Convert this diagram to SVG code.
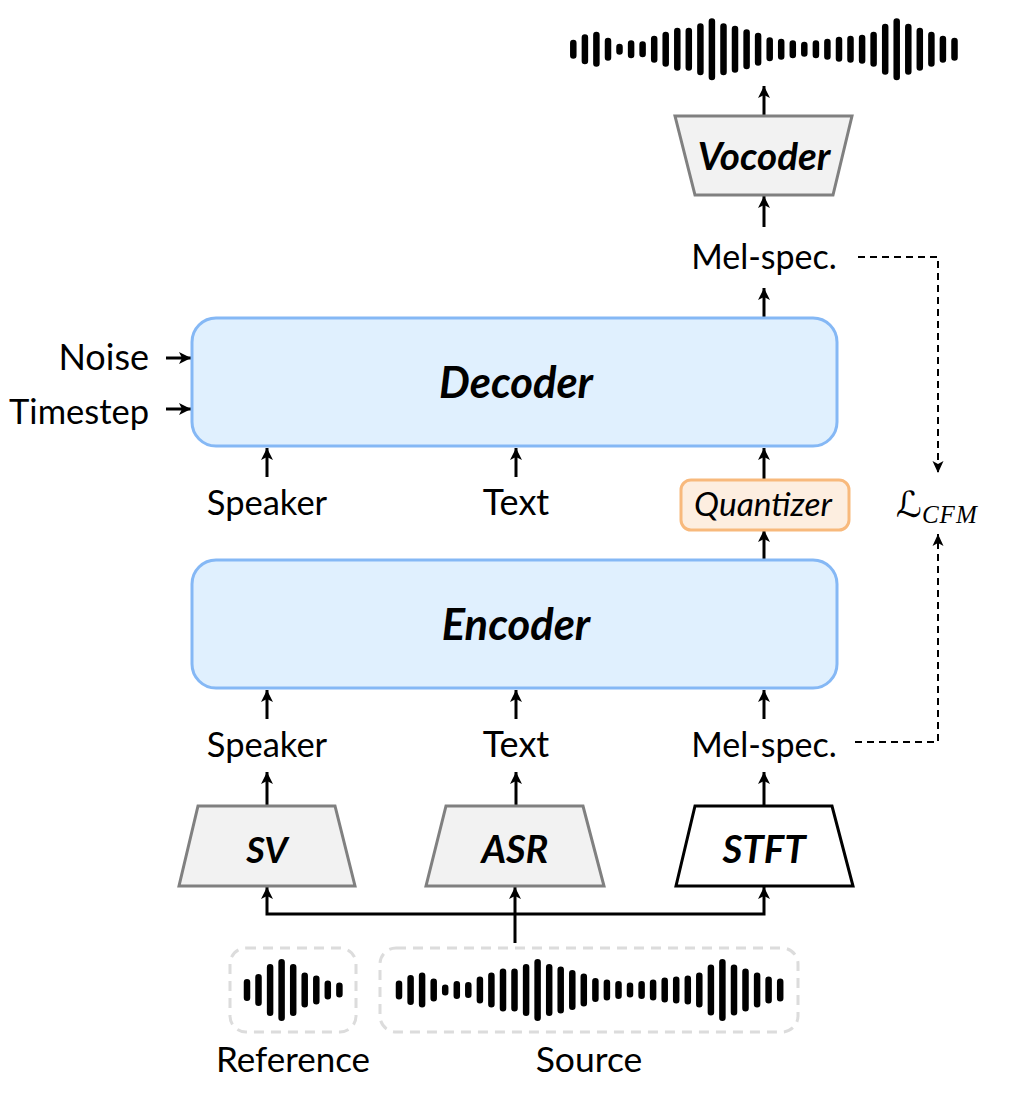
<svg xmlns="http://www.w3.org/2000/svg" width="1028" height="1100" viewBox="0 0 1028 1100">
<style>
text{font-family:"Lato","Liberation Sans",sans-serif;fill:#000}
.l{font-size:34.5px;text-anchor:middle}
.m{font-size:34px;text-anchor:middle}
.b{font-weight:700;font-style:italic;text-anchor:middle}
.block{fill:#e0f0fe;stroke:#85b8f5;stroke-width:3}
.gt{fill:#f2f2f2;stroke:#808080;stroke-width:3}
.wt{fill:#fff;stroke:#000;stroke-width:3}
.c{fill:none;stroke:#000;stroke-width:3}
.d{fill:none;stroke:#000;stroke-width:2;stroke-dasharray:7 5}
.w{fill:none;stroke:#000;stroke-width:6.5;stroke-linecap:round}
.box{fill:none;stroke:#dcdcdc;stroke-width:3;stroke-dasharray:10 7}
</style>
<defs>
<marker id="a" markerUnits="userSpaceOnUse" markerWidth="16" markerHeight="16" refX="13" refY="7" orient="auto"><path d="M1 1L13 7L1 13L4 7Z" fill="#000"/></marker>
<marker id="s" markerUnits="userSpaceOnUse" markerWidth="16" markerHeight="16" refX="13" refY="7" orient="auto"><path d="M1 1.5L13 7L1 12.5L4 7Z" fill="#000"/></marker>
<path id="wave" class="w" d="M573.3 43v12.5M584.9 37.5v23.5M596.4 35v28.5M608 41v16.5M619.5 47v4.5M631.1 43.5v11.5M642.6 44.5v9.5M654.2 39v20.5M665.7 35v28.5M677.3 31v36.5M688.8 31v36.5M700.4 26.5v45.5M711.9 21.5v55.5M723.5 26.5v45.5M735 29v40.5M746.6 32.5v33.5M758.1 36v26.5M769.7 40.5v17.5M781.2 42v14.5M792.8 43.5v11.5M804.3 45v8.5M815.9 43.5v11.5M827.4 42v14.5M839 40v18.5M850.5 39v20.5M862.1 38v22.5M873.6 35v28.5M885.2 27v44.5M896.7 21.5v55.5M908.3 27v44.5M919.8 31v36.5M931.4 35v28.5M942.9 39v20.5M954.5 41v16.5"/>
</defs>
<g id="connectors">
<path class="c" marker-end="url(#a)" d="M764 116V86"/>
<path class="c" marker-end="url(#a)" d="M764 227V196"/>
<path class="c" marker-end="url(#a)" d="M764 318V288"/>
<path class="c" marker-end="url(#a)" d="M764 480V448"/>
<path class="c" marker-end="url(#a)" d="M764 560V530"/>
<path class="c" marker-end="url(#a)" d="M267 477V448"/>
<path class="c" marker-end="url(#a)" d="M516 477V448"/>
<path class="c" marker-end="url(#a)" d="M267 719V690"/>
<path class="c" marker-end="url(#a)" d="M516 719V690"/>
<path class="c" marker-end="url(#a)" d="M764 719V690"/>
<path class="c" marker-end="url(#a)" d="M267 806V772"/>
<path class="c" marker-end="url(#a)" d="M516 806V772"/>
<path class="c" marker-end="url(#a)" d="M764 806V772"/>
<path class="c" marker-end="url(#a)" d="M166 358H191"/>
<path class="c" marker-end="url(#a)" d="M166 409H191"/>
<path class="c" marker-end="url(#a)" d="M515 943V887"/>
<path class="c" marker-end="url(#a)" d="M515 914H267V887"/>
<path class="c" marker-end="url(#a)" d="M515 914H764V887"/>
<path class="d" marker-end="url(#s)" d="M858 257H938V473"/>
<path class="d" marker-end="url(#s)" d="M855 742H938V534"/>
</g>
<g id="output-wave"><use href="#wave"/></g>
<g id="vocoder"><path class="gt" d="M675 116H852L833 195H695Z"/><text class="b" x="764" y="170" font-size="38.5">Vocoder</text></g>
<g id="mel-top"><text class="m" x="764" y="269">Mel-spec.</text></g>
<g id="decoder"><rect class="block" x="192" y="318" width="645" height="128" rx="24"/><text class="b" x="516" y="398" font-size="43.5">Decoder</text></g>
<g id="noise"><text x="149" y="370" font-size="36" text-anchor="end">Noise</text></g>
<g id="timestep"><text x="149" y="424" font-size="34.5" text-anchor="end">Timestep</text></g>
<g id="speaker-top"><text class="l" x="267" y="515">Speaker</text></g>
<g id="text-top"><text class="l" x="516" y="515" style="font-size:36px">Text</text></g>
<g id="quantizer"><rect x="681" y="480" width="168" height="50" rx="10" fill="#fdeee0" stroke="#f8b97c" stroke-width="3"/><text x="763" y="516" font-size="33.5" font-style="italic" text-anchor="middle">Quantizer</text></g>
<g id="loss"><text x="896" y="517" font-size="36" style="font-family:'DejaVu Serif','DejaVu Sans',serif">ℒ<tspan font-size="25" font-style="italic" dy="6" letter-spacing="1" style="font-family:'Liberation Serif',serif">CFM</tspan></text></g>
<g id="encoder"><rect class="block" x="192" y="560" width="645" height="128" rx="24"/><text class="b" x="516" y="640" font-size="43.5">Encoder</text></g>
<g id="speaker-bottom"><text class="l" x="267" y="757">Speaker</text></g>
<g id="text-bottom"><text class="l" x="516" y="757" style="font-size:36px">Text</text></g>
<g id="mel-bottom"><text class="m" x="764" y="757">Mel-spec.</text></g>
<g id="sv"><path class="gt" d="M198 806H335L355 886H179Z"/><text class="b" x="267" y="863" font-size="36">SV</text></g>
<g id="asr"><path class="gt" d="M446 806H583L604 886H426Z"/><text class="b" x="515" y="863" font-size="38">ASR</text></g>
<g id="stft"><path class="wt" d="M695 806H832L853 886H676Z"/><text class="b" x="764" y="863" font-size="38.5">STFT</text></g>
<g id="reference"><rect class="box" x="230" y="948" width="126" height="84" rx="16"/>
<path class="w" d="M247 982.2v15.5M258.5 977.2v25.5M270.1 967.2v45.5M281.6 962.2v55.5M293.2 967.2v45.5M304.7 975.7v28.5M316.3 978.7v22.5M327.8 983.7v12.5M339.4 985.7v8.5"/>
<text class="l" x="293" y="1072" style="font-size:35px">Reference</text></g>
<g id="source"><rect class="box" x="380" y="948" width="418" height="84" rx="16"/>
<use href="#wave" x="-174.3" y="940.7"/>
<text class="l" x="589" y="1072" style="font-size:35.5px">Source</text></g>
</svg>
